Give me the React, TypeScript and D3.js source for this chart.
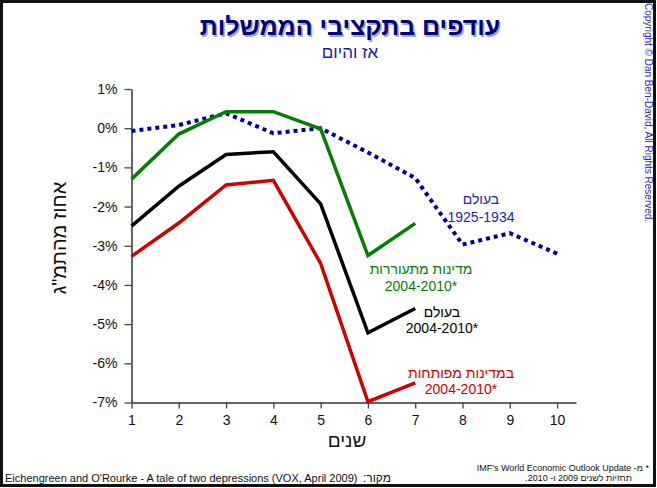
import React, { useEffect, useRef } from 'react';
import * as d3 from 'd3';

// years since start of crisis
const years = [1, 2, 3, 4, 5, 6, 7, 8, 9, 10];

// budget surplus, % of GDP
const world1925 = [-0.07, 0.08, 0.38, -0.13, 0.0, -0.62, -1.27, -2.97, -2.68, -3.2];
const emerging = [-1.3, -0.15, 0.42, 0.42, -0.02, -3.25, -2.43];
const worldNow = [-2.5, -1.48, -0.67, -0.6, -1.93, -5.22, -4.6];
const developed = [-3.27, -2.42, -1.45, -1.33, -3.45, -6.98, -6.5];

const yTicks = [1, 0, -1, -2, -3, -4, -5, -6, -7];

const FONT = '"Liberation Sans", Arial, sans-serif';

const App = () => {
  const svgRef = useRef<SVGSVGElement>(null);

  useEffect(() => {
    const svg = d3.select(svgRef.current);
    svg.selectAll('*').remove();

    const x = d3.scaleLinear().domain([1, 10.4]).range([131.5, 576]);
    const y = d3.scaleLinear().domain([-7, 1]).range([402.5, 89]);

    // frame
    svg.append('rect')
      .attr('x', 1.5).attr('y', 1.5)
      .attr('width', 653).attr('height', 484)
      .attr('fill', '#fff')
      .attr('stroke', '#111')
      .attr('stroke-width', 3);

    // title with a soft shadow
    const title = 'עודפים בתקציבי הממשלות';
    svg.append('text')
      .attr('x', 351.5).attr('y', 36.5)
      .attr('text-anchor', 'middle')
      .style('font', `bold 25px ${FONT}`)
      .attr('fill', '#a8a8c8')
      .text(title);
    svg.append('text')
      .attr('x', 350).attr('y', 35)
      .attr('text-anchor', 'middle')
      .style('font', `bold 25px ${FONT}`)
      .attr('fill', '#000080')
      .text(title);

    svg.append('text')
      .attr('x', 350).attr('y', 58)
      .attr('text-anchor', 'middle')
      .style('font', `17px ${FONT}`)
      .attr('fill', '#1a1a9c')
      .text('אז והיום');

    // axes
    const yAxis = svg.append('g')
      .attr('transform', `translate(${x(1)},0)`)
      .call(d3.axisLeft(y).tickValues(yTicks).tickSize(7).tickPadding(7).tickSizeOuter(0)
        .tickFormat(d => `${d}%`));
    const xAxis = svg.append('g')
      .attr('transform', `translate(0,${y(-7)})`)
      .call(d3.axisBottom(x).tickValues(years).tickSize(6).tickPadding(7).tickSizeOuter(0)
        .tickFormat(d3.format('d')));

    [yAxis, xAxis].forEach(g => {
      g.select('.domain').attr('stroke', '#333').attr('stroke-width', 1.5);
      g.selectAll('.tick line').attr('stroke', '#444').attr('stroke-width', 1.3);
      g.selectAll('.tick text')
        .style('font-family', FONT)
        .style('font-size', '14px')
        .attr('fill', '#111');
    });

    svg.append('text')
      .attr('transform', 'translate(66,238) rotate(-90)')
      .attr('text-anchor', 'middle')
      .style('font', `20px ${FONT}`)
      .attr('fill', '#111')
      .text('אחוז מהתמ"ג');

    svg.append('text')
      .attr('x', 347).attr('y', 447)
      .attr('text-anchor', 'middle')
      .style('font', `19px ${FONT}`)
      .attr('fill', '#111')
      .text('שנים');

    const line = d3.line<number>()
      .x((_, i) => x(years[i]))
      .y(d => y(d));

    svg.append('path')
      .datum(world1925)
      .attr('fill', 'none')
      .attr('stroke', '#000099')
      .attr('stroke-width', 4)
      .attr('stroke-dasharray', '4 4')
      .attr('d', line);

    const solid = [
      { values: emerging, color: '#008000' },
      { values: worldNow, color: '#000000' },
      { values: developed, color: '#d00000' },
    ];
    solid.forEach(s => {
      svg.append('path')
        .datum(s.values)
        .attr('fill', 'none')
        .attr('stroke', s.color)
        .attr('stroke-width', 3.5)
        .attr('stroke-linejoin', 'miter')
        .attr('d', line);
    });

    // series labels
    const labels = [
      { lines: ['בעולם', '1925-1934'], color: '#2424b0', cx: 481, y0: 204, gap: 18 },
      { lines: ['מדינות מתעוררות', '2004-2010*'], color: '#008000', cx: 421, y0: 274, gap: 17 },
      { lines: ['בעולם', '2004-2010*'], color: '#000000', cx: 442, y0: 317, gap: 15.5 },
      { lines: ['במדינות מפותחות', '2004-2010*'], color: '#d00000', cx: 461, y0: 378, gap: 16 },
    ];
    labels.forEach(l => {
      l.lines.forEach((t, i) => {
        svg.append('text')
          .attr('x', l.cx).attr('y', l.y0 + i * l.gap)
          .attr('text-anchor', 'middle')
          .style('font', `14px ${FONT}`)
          .attr('fill', l.color)
          .text(t);
      });
    });

    // copyright, vertical
    svg.append('text')
      .attr('transform', 'translate(645,3) rotate(90)')
      .style('font', `10px ${FONT}`)
      .attr('fill', '#2b2bbd')
      .text('Copyright © Dan Ben-David, All Rights Reserved.');

    // source
    svg.append('text')
      .attr('x', 5).attr('y', 482)
      .style('font', `11px ${FONT}`)
      .attr('fill', '#111')
      .text("Eichengreen and O'Rourke - A tale of two depressions (VOX, April 2009)");
    svg.append('text')
      .attr('x', 391).attr('y', 482)
      .attr('text-anchor', 'start')
      .style('direction', 'rtl')
      .style('font', `12px ${FONT}`)
      .attr('fill', '#111')
      .text('מקור:');

    // footnote
    svg.append('text')
      .attr('x', 649).attr('y', 471)
      .attr('text-anchor', 'start')
      .style('direction', 'rtl')
      .style('font', `9px ${FONT}`)
      .attr('fill', '#111')
      .text("* מ- IMF's World Economic Outlook Update");
    svg.append('text')
      .attr('x', 632).attr('y', 481)
      .attr('text-anchor', 'start')
      .style('direction', 'rtl')
      .style('font', `9px ${FONT}`)
      .attr('fill', '#111')
      .text('תחזיות לשנים 2009 ו- 2010.');
  }, []);

  return (
    <svg
      ref={svgRef}
      width={657}
      height={488}
      style={{ position: 'absolute', left: 0, top: 0, display: 'block' }}
    />
  );
};

export default App;
